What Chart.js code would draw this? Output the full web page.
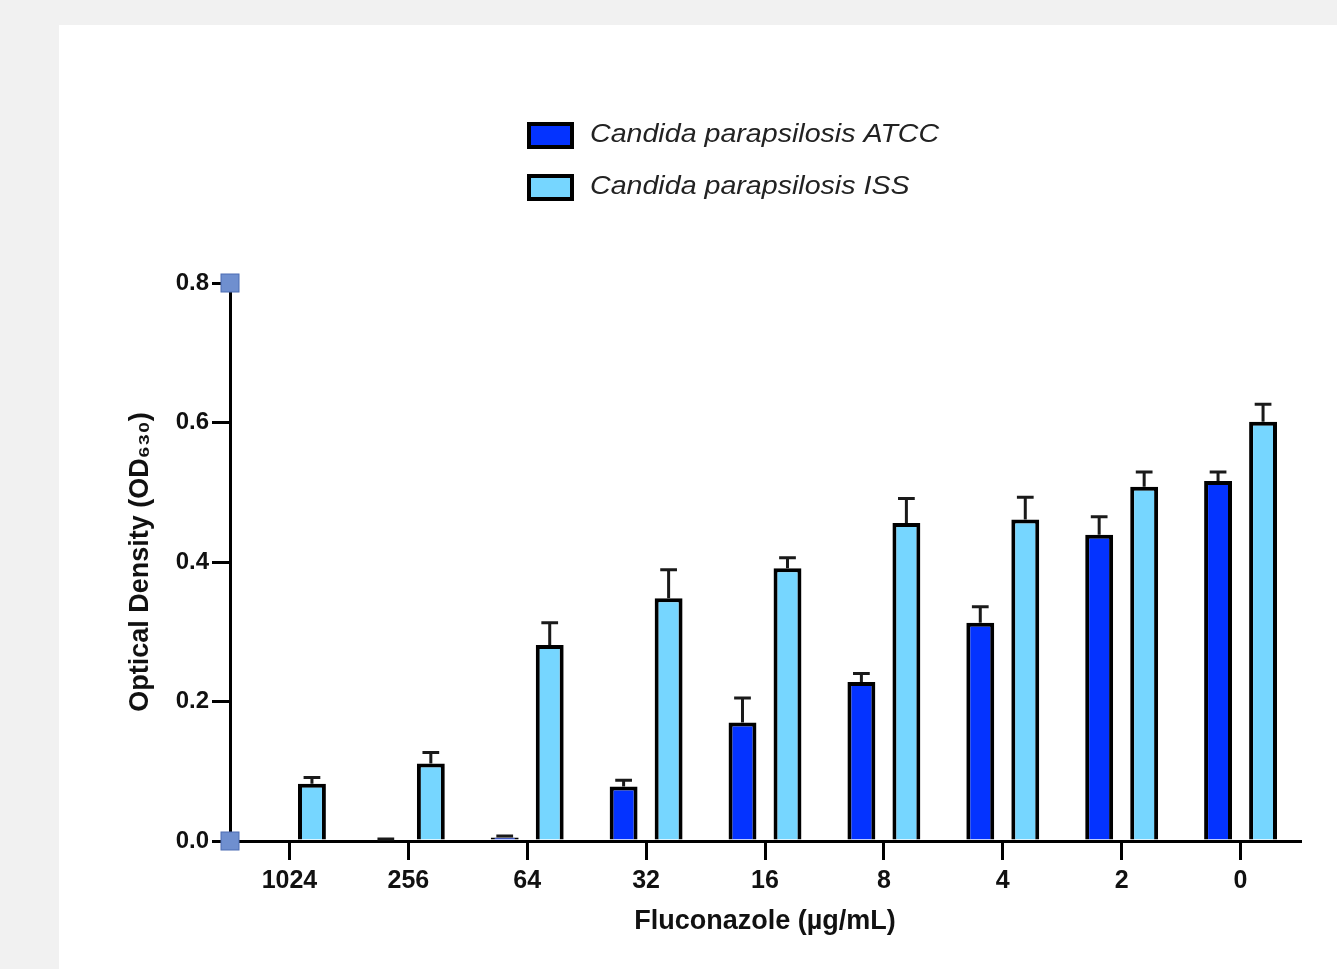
<!DOCTYPE html>
<html>
<head>
<meta charset="utf-8">
<script src="https://cdn.jsdelivr.net/npm/chart.js@4"></script>
<style>
  html, body { margin: 0; padding: 0; background: #f1f1f1; }
  #panel { position: absolute; left: 59px; top: 25px; width: 1278px; height: 944px; background: #fff; }
</style>
</head>
<body>
<div id="panel"><canvas id="od-chart"></canvas></div>
<script>
// Fluconazole concentrations (ug/mL)
const doses = ['1024', '256', '64', '32', '16', '8', '4', '2', '0'];

// mean OD630 per strain
const atccMean = [0, 0.002, 0.005, 0.078, 0.170, 0.228, 0.313, 0.439, 0.516];
const issMean  = [0.082, 0.111, 0.281, 0.348, 0.391, 0.456, 0.461, 0.508, 0.601];

// upper error (SD)
const atccErr = [0, 0.001, 0.002, 0.009, 0.035, 0.012, 0.023, 0.026, 0.013];
const issErr  = [0.009, 0.016, 0.032, 0.041, 0.015, 0.035, 0.032, 0.021, 0.025];

const yTicks = [0, 0.2, 0.4, 0.6, 0.8];

const seriesNames = ['Candida parapsilosis ATCC', 'Candida parapsilosis ISS'];
const seriesColors = ['#0433ff', '#76d6ff'];
const errorSets = [atccErr, issErr];

const FONT = '"Liberation Sans", Arial, sans-serif';

// error bars, custom legend and the little handles on the y axis
const extras = {
    id: 'extras',
    afterDatasetsDraw(chart) {
        const ctx = chart.ctx;
        const y = chart.scales.y;
        ctx.save();
        ctx.strokeStyle = '#1a1a1a';
        ctx.lineWidth = 3;
        chart.data.datasets.forEach((ds, d) => {
            const meta = chart.getDatasetMeta(d);
            meta.data.forEach((bar, i) => {
                const err = errorSets[d][i];
                if (!err) return;
                const top = y.getPixelForValue(ds.data[i] + err);
                const half = bar.width * 0.3;
                ctx.beginPath();
                ctx.moveTo(bar.x, bar.y);
                ctx.lineTo(bar.x, top);
                ctx.moveTo(bar.x - half, top);
                ctx.lineTo(bar.x + half, top);
                ctx.stroke();
            });
        });
        ctx.restore();
    },
    afterDraw(chart) {
        const ctx = chart.ctx;
        const y = chart.scales.y;
        ctx.save();

        // legend (text a bit wider than the font, like the original)
        chart.data.datasets.forEach((ds, d) => {
            const cy = 110 + d * 52;
            ctx.fillStyle = ds.backgroundColor;
            ctx.fillRect(470, cy - 11, 43, 23);
            ctx.strokeStyle = '#000';
            ctx.lineWidth = 4;
            ctx.strokeRect(470, cy - 11, 43, 23);
            ctx.save();
            ctx.translate(531, cy);
            ctx.scale(1.1, 1);
            ctx.font = 'italic 26px ' + FONT;
            ctx.textBaseline = 'middle';
            ctx.fillStyle = '#222';
            ctx.fillText(ds.label, 0, 0);
            ctx.restore();
        });

        // handles at axis ends
        const ax = chart.chartArea.left;
        [y.min, y.max].forEach(v => {
            const py = y.getPixelForValue(v);
            ctx.fillStyle = '#6f8fcf';
            ctx.strokeStyle = '#4c6db3';
            ctx.lineWidth = 1;
            ctx.fillRect(ax - 9, py - 9, 18, 18);
            ctx.strokeRect(ax - 9, py - 9, 18, 18);
        });
        ctx.restore();
    }
};

const ctx = document.getElementById('od-chart');
new Chart(ctx, {
    type: 'bar',
    data: {
        labels: doses,
        datasets: [{
            label: seriesNames[0],
            data: atccMean,
            backgroundColor: seriesColors[0],
            borderColor: '#000',
            borderWidth: 4,
            borderSkipped: 'start'
        }, {
            label: seriesNames[1],
            data: issMean,
            backgroundColor: seriesColors[1],
            borderColor: '#000',
            borderWidth: 4,
            borderSkipped: 'start'
        }]
    },
    options: {
        responsive: true,
        maintainAspectRatio: false,
        animation: false,
        categoryPercentage: 0.757,
        barPercentage: 0.62,
        layout: {
            padding: { left: 61, right: 37, top: 258, bottom: 27 }
        },
        plugins: {
            legend: { display: false },
            tooltip: { enabled: false }
        },
        scales: {
            x: {
                afterFit: s => { s.height = 101; },
                grid: {
                    offset: false,
                    drawOnChartArea: false,
                    color: '#000',
                    lineWidth: 3,
                    tickLength: 19
                },
                border: { color: '#000', width: 3 },
                ticks: {
                    color: '#111',
                    padding: 6,
                    font: { family: FONT, size: 25, weight: 'bold' }
                },
                title: {
                    display: true,
                    text: 'Fluconazole (µg/mL)',
                    color: '#111',
                    font: { family: FONT, size: 27, weight: 'bold' }
                }
            },
            y: {
                min: 0,
                max: 0.8,
                afterFit: s => { s.width = 110; },
                afterBuildTicks: s => { s.ticks = yTicks.map(v => ({ value: v })); },
                grid: {
                    drawOnChartArea: false,
                    color: '#000',
                    lineWidth: 3,
                    tickLength: 18
                },
                border: { color: '#000', width: 3 },
                ticks: {
                    color: '#111',
                    padding: 3,
                    font: { family: FONT, size: 24, weight: 'bold' },
                    callback: v => v.toFixed(1)
                },
                title: {
                    display: true,
                    text: 'Optical Density (OD₆₃₀)',
                    color: '#111',
                    font: { family: FONT, size: 27, weight: 'bold' }
                }
            }
        }
    },
    plugins: [extras]
});
</script>
</body>
</html>
